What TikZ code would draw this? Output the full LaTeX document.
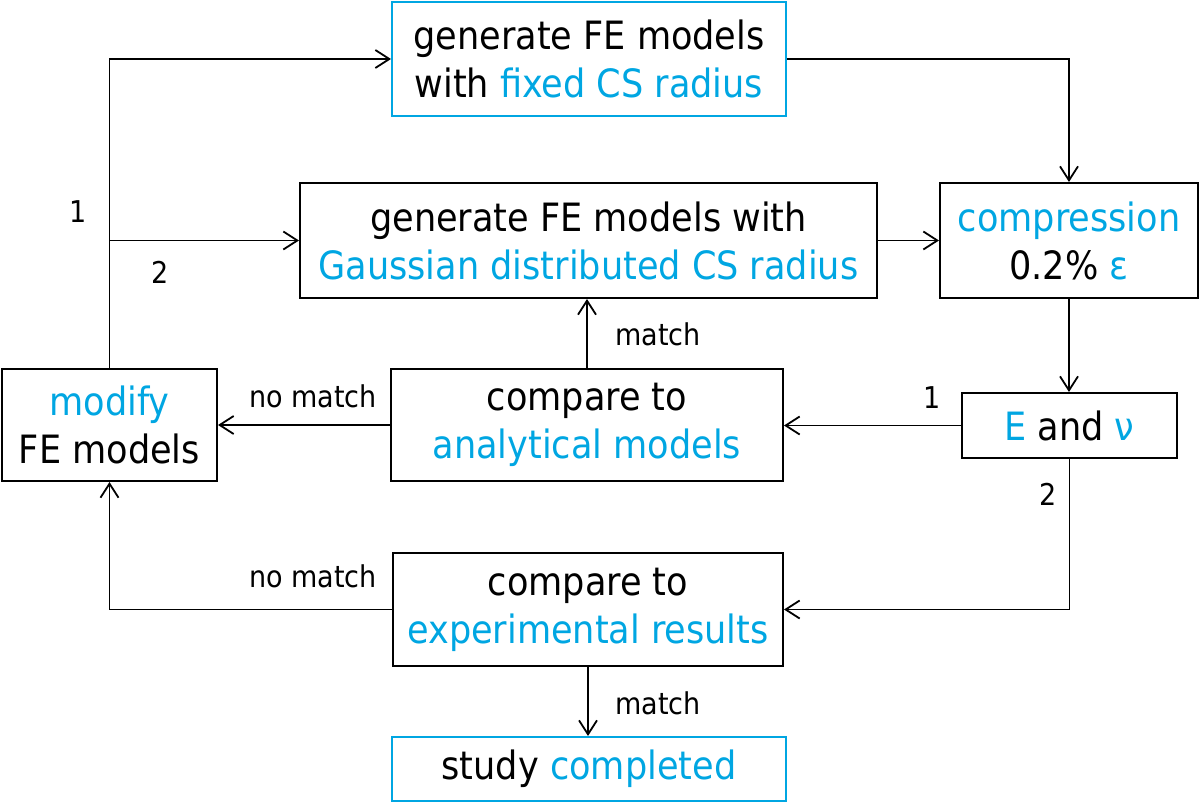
\documentclass[tikz,border=0pt]{standalone}
\usepackage{fontspec}
\setmainfont{DejaVu Sans Condensed}
\usetikzlibrary{arrows.meta}
\definecolor{cblue}{RGB}{0,166,226}

\begin{document}
\begin{tikzpicture}[x=0.5pt,y=-0.5pt,>={Straight Barb[length=7pt,width=9pt]},line width=0.9pt,
  box/.style={draw,line width=1pt,align=center,inner sep=0pt,font=\fontsize{19.5}{24}\selectfont},
  bluebox/.style={box,draw=cblue},
  lab/.style={font=\fontsize{15}{17}\selectfont}]
\useasboundingbox (0,0) rectangle (1199,803);
% boxes
\node[bluebox,minimum width=197pt,minimum height=57pt] (fixed) at (589,59) {generate FE models\\with \textcolor{cblue}{fixed CS radius}};
\node[box,minimum width=288.5pt,minimum height=57.5pt] (gauss) at (588.5,240.5) {generate FE models with\\\textcolor{cblue}{Gaussian distributed CS radius}};
\node[box,minimum width=129pt,minimum height=57.5pt] (compr) at (1069,240.5) {\textcolor{cblue}{compression}\\0.2\% \textcolor{cblue}{ε}};
\node[box,minimum width=107.5pt,minimum height=32.5pt] (eandv) at (1069.5,425.5) {\textcolor{cblue}{E} and \textcolor{cblue}{ν}};
\node[box,minimum width=196pt,minimum height=56pt] (compan) at (587,425) {compare to\\\textcolor{cblue}{analytical models}};
\node[box,minimum width=107.5pt,minimum height=56pt] (modify) at (109.5,425) {\textcolor{cblue}{modify}\\FE models};
\node[box,minimum width=195pt,minimum height=56.5pt] (compexp) at (588,609.5) {compare to\\\textcolor{cblue}{experimental results}};
\node[bluebox,minimum width=197pt,minimum height=32pt] (study) at (589,769) {study \textcolor{cblue}{completed}};
% connectors
\coordinate (split) at (109.5,240.5);
\draw[->] (modify.north) |- (fixed.west);
\draw[->] (split) -- (gauss.west);
\draw[->] (fixed.east) -| (compr.north);
\draw[->] (gauss.east) -- (compr.west);
\draw[->] (compr.south) -- (compr.south |- eandv.north);
\draw[->] (eandv.west) -- (eandv.west -| compan.east);
\draw[->] (compan.west) -- (modify.east);
\draw[->] (compan.north) -- (compan.north |- gauss.south);
\draw[->] (eandv.south) |- (compexp.east);
\draw[->] (compexp.west) -| (modify.south);
\draw[->] (compexp.south) -- (compexp.south |- study.north);
% labels
\node[lab] (l1a) at (78,212) {1};
\node[lab] (l2a) at (160,272) {2};
\node[lab] (nm1) at (313,396) {no match};
\node[lab] (m1) at (658,334) {match};
\node[lab] (l1b) at (932,398) {1};
\node[lab] (l2b) at (1048,494) {2};
\node[lab] (nm2) at (313,576) {no match};
\node[lab] (m2) at (658,703) {match};
\end{tikzpicture}
\end{document}
